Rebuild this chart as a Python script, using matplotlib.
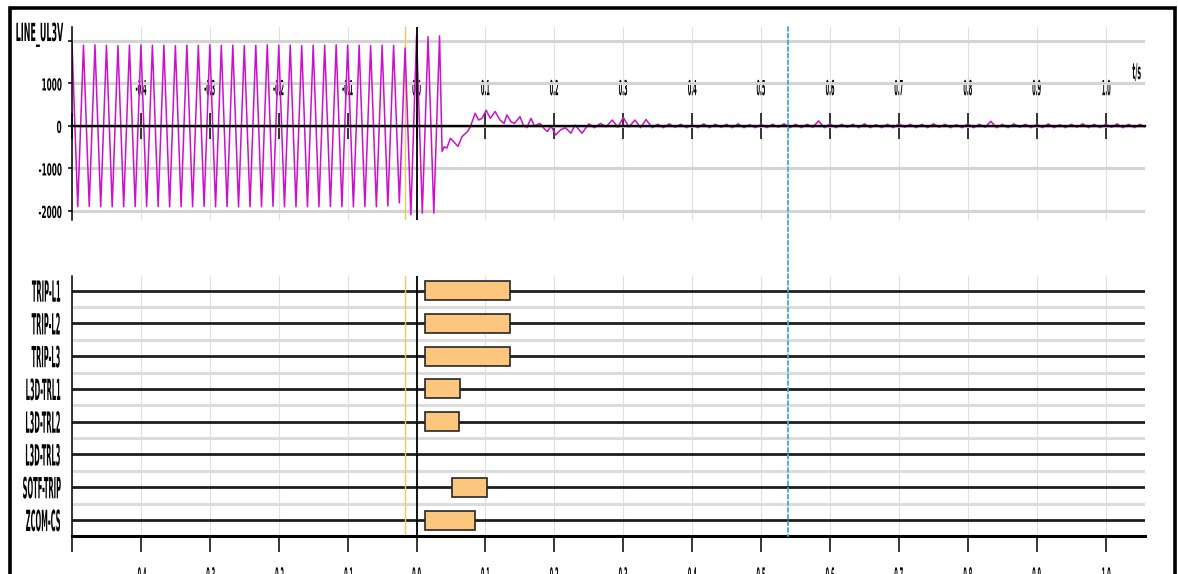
import numpy as np
import matplotlib
matplotlib.use("Agg")
import matplotlib.pyplot as plt
from matplotlib import patheffects
from matplotlib.patches import ConnectionPatch, Rectangle
from matplotlib.transforms import Affine2D

# LINE_UL3V: sampled peaks, one per half cycle (60 Hz) from t = -0.5 s
pre_fault_uv = [1950, -1900, 1900, -1890, 1910, -1900, 1900, -1900, 1890, -1900,
                1900, -1900, 1910, -1890, 1900, -1900, 1900, -1900, 1890, -1900,
                1900, -1900, 1900, -1890, 1910, -1900, 1900, -1900, 1900, -1900,
                1890, -1900, 1900, -1900, 1910, -1890, 1900, -1900, 1900, -1900,
                1890, -1900, 1900, -1900, 1900, -1890, 1910, -1900, 1900, -1900,
                1900, -1900, 1890, -1900, 1900, -1880, 1900, -1810, 1835, -2090,
                2140, -2050, 2100, -2050, 2120]

# residual voltage once the breaker has opened
post_fault_t = [0.037, 0.040, 0.044, 0.049, 0.054, 0.060, 0.066, 0.074, 0.078, 0.085,
                0.090, 0.095, 0.101, 0.107, 0.114, 0.121, 0.127, 0.131, 0.137, 0.142,
                0.150, 0.155, 0.160, 0.166, 0.171, 0.179, 0.185, 0.190, 0.195, 0.202,
                0.209, 0.216, 0.224, 0.230, 0.240, 0.250, 0.258, 0.267, 0.275, 0.284,
                0.292, 0.300, 0.308, 0.317, 0.325, 0.333, 0.342]
post_fault_uv = [-600, -490, -520, -290, -370, -480, -250, -130, -20, 300,
                 140, 180, 370, 180, 340, 140, 60, 260, 100, 60,
                 220, 20, -40, 180, 0, 60, -60, -130, 0, -210,
                 -90, -40, -170, 20, -170, 50, -40, 60, -20, 140,
                 -30, 200, -20, 140, -40, 150, -40]

# small ripple on the dead line, half-cycle samples from t = 0.35 s
tail_uv = [40, -40, 50, -30, 40, -40, 30, -40, 50, -40,
           40, -30, 40, -40, 50, -40, 30, -40, 40, -40,
           40, -30, 50, -40, 40, -40, 40, -30, 120, -40,
           50, -40, 40, -30, 40, -40, 50, -40, 30, -40,
           40, -40, 50, -30, 40, -40, 40, -40, 50, -30,
           40, -40, 30, -40, 50, -40, 40, -30, 110, -40,
           40, -40, 50, -30, 40, -40, 40, -40, 50, -40,
           30, -40, 40, -30, 50, -40, 40, -40, 40, -30,
           50, -40, 40, -40, 40, -40]

time_ticks = [-0.5, -0.4, -0.3, -0.2, -0.1, 0.0, 0.1, 0.2, 0.3, 0.4, 0.5, 0.6, 0.7, 0.8, 0.9, 1.0]
time_labels = ['', '-0.4', '-0.3', '-0.2', '-0.1', '0.0', '0.1', '0.2', '0.3', '0.4',
               '0.5', '0.6', '0.7', '0.8', '0.9', '1.0']
volt_ticks = [-2000, -1000, 0, 1000, 2000]
volt_labels = ['-2000', '-1000', '0', '1000', '']

# binary channels and the interval each one is set
channels = ['TRIP-L1', 'TRIP-L2', 'TRIP-L3', 'L3D-TRL1', 'L3D-TRL2', 'L3D-TRL3', 'SOTF-TRIP', 'ZCOM-CS']
set_from = [0.012, 0.012, 0.012, 0.012, 0.012, None, 0.051, 0.012]
set_until = [0.136, 0.136, 0.136, 0.063, 0.062, None, 0.102, 0.085]

trigger_t = 0.0
marker_t = -0.0174
cursor_t = 0.539


class Squeeze(patheffects.AbstractPathEffect):
    """Draw text glyphs narrowed horizontally about one edge of the string."""

    def __init__(self, sx, anchor='center'):
        super().__init__()
        self.sx = sx
        self.anchor = anchor

    def draw_path(self, renderer, gc, tpath, affine, rgbFace=None):
        ext = tpath.get_extents(affine)
        px = {'left': ext.x0, 'right': ext.x1, 'center': 0.5 * (ext.x0 + ext.x1)}[self.anchor]
        narrow = Affine2D().translate(-px, 0).scale(self.sx, 1).translate(px, 0)
        renderer.draw_path(gc, tpath, affine + narrow, rgbFace)


plt.rcParams['font.family'] = 'DejaVu Sans'
plt.rcParams['font.weight'] = 'bold'

W, H = 1178, 574
fig = plt.figure(figsize=(W / 100, H / 100), dpi=100)


def axes_px(left, top, right, bottom):
    return fig.add_axes([left / W, 1 - bottom / H, (right - left) / W, (bottom - top) / H])


ax1 = axes_px(72, 27, 1145, 220)
ax2 = axes_px(72, 276, 1145, 536)

# ---- analog trace
pre_fault_t = -0.5 + np.arange(len(pre_fault_uv)) / 120.0
tail_t = 0.35 + np.arange(len(tail_uv)) / 120.0
t_all = np.concatenate([pre_fault_t, post_fault_t, tail_t])
v_all = np.concatenate([pre_fault_uv, post_fault_uv, tail_uv])
ax1.plot(t_all, v_all, color='#cc10cc', lw=1.1, zorder=2)

ax1.set_xlim(-0.5, 1.057)
ax1.set_ylim(-2212, 2329)
ax1.spines['right'].set_visible(False)
ax1.spines['bottom'].set_visible(False)
ax1.spines['top'].set_position(('data', 0))
ax1.spines['top'].set_linewidth(1.7)
ax1.spines['left'].set_linewidth(1.1)
ax1.xaxis.set_ticks_position('top')
ax1.set_xticks(time_ticks, time_labels)
ax1.tick_params(axis='x', direction='inout', length=19.4, width=1.1, pad=9.6,
                labelsize=15, labeltop=True, labelbottom=False)
ax1.set_yticks(volt_ticks, volt_labels)
ax1.tick_params(axis='y', direction='out', length=3, width=1.1, pad=4.2, labelsize=12)
ax1.grid(axis='y', color='#d4d4d4', lw=2.2)
ax1.grid(axis='x', color='#e0e0e0', lw=0.8)
ax1.axvline(trigger_t, color='black', lw=1.3, zorder=3)
ax1.axvline(marker_t, color='#f2c85a', lw=1.0, zorder=1.8)

for tk in ax1.xaxis.get_major_ticks():
    tk.label2.set_path_effects([Squeeze(0.24, 'center')])
for tk in ax1.yaxis.get_major_ticks():
    tk.label1.set_path_effects([Squeeze(0.44, 'right')])

# ---- binary channels
rows = np.arange(len(channels), 0, -1)
for y, t0, t1 in zip(rows, set_from, set_until):
    if t0 is None:
        continue
    ax2.barh(y, t1 - t0, left=t0, height=0.58, color='#fcc67f',
             edgecolor='#262626', linewidth=1.2, zorder=3)

ax2.set_xlim(-0.5, 1.057)
ax2.set_ylim(0.512, 8.449)
ax2.set_axisbelow(True)
ax2.spines['right'].set_visible(False)
ax2.spines['top'].set_visible(False)
ax2.spines['bottom'].set_linewidth(2.2)
ax2.spines['left'].set_linewidth(1.1)
ax2.set_yticks(rows, channels)
ax2.set_yticks(rows[:-1] - 0.5, minor=True)
ax2.tick_params(axis='y', which='both', length=0, pad=7.2, labelsize=21)
ax2.grid(axis='y', which='major', color='#1e1e1e', lw=2.0)
ax2.grid(axis='y', which='minor', color='#dcdcdc', lw=2.2)
ax2.set_xticks(time_ticks, time_labels)
ax2.tick_params(axis='x', direction='out', length=11.5, width=1.1, pad=10.5, labelsize=15)
ax2.grid(axis='x', color='#e0e0e0', lw=0.8)
ax2.axvline(trigger_t, color='black', lw=1.3, zorder=4)
ax2.axvline(marker_t, color='#f2c85a', lw=1.0, zorder=2)

for tk in ax2.xaxis.get_major_ticks():
    tk.label1.set_path_effects([Squeeze(0.24, 'center')])
for tk in ax2.yaxis.get_major_ticks():
    tk.label1.set_path_effects([Squeeze(0.23, 'right')])

# cursor running through both panels
cursor = ConnectionPatch(xyA=(cursor_t, 1), coordsA=ax1.get_xaxis_transform(),
                         xyB=(cursor_t, 0), coordsB=ax2.get_xaxis_transform(),
                         color='#3fa9dd', lw=1.3, linestyle=(0, (2.2, 1.5)),
                         shrinkA=0, shrinkB=0, zorder=6)
fig.add_artist(cursor)

fig.text(63 / W, 1 - 23 / H, 'LINE_UL3V', ha='right', va='top', fontsize=18,
         path_effects=[Squeeze(0.32, 'right')])
fig.text(1137 / W, 1 - 73 / H, 't/s', ha='center', va='center', fontsize=16,
         path_effects=[Squeeze(0.27, 'center')])

frame = Rectangle((10 / W, -0.05), (1175 - 10) / W, 1.05 - 8 / H, transform=fig.transFigure,
                  fill=False, edgecolor='black', linewidth=2.6, clip_on=False)
fig.add_artist(frame)

fig.savefig('out.png', dpi=100)
